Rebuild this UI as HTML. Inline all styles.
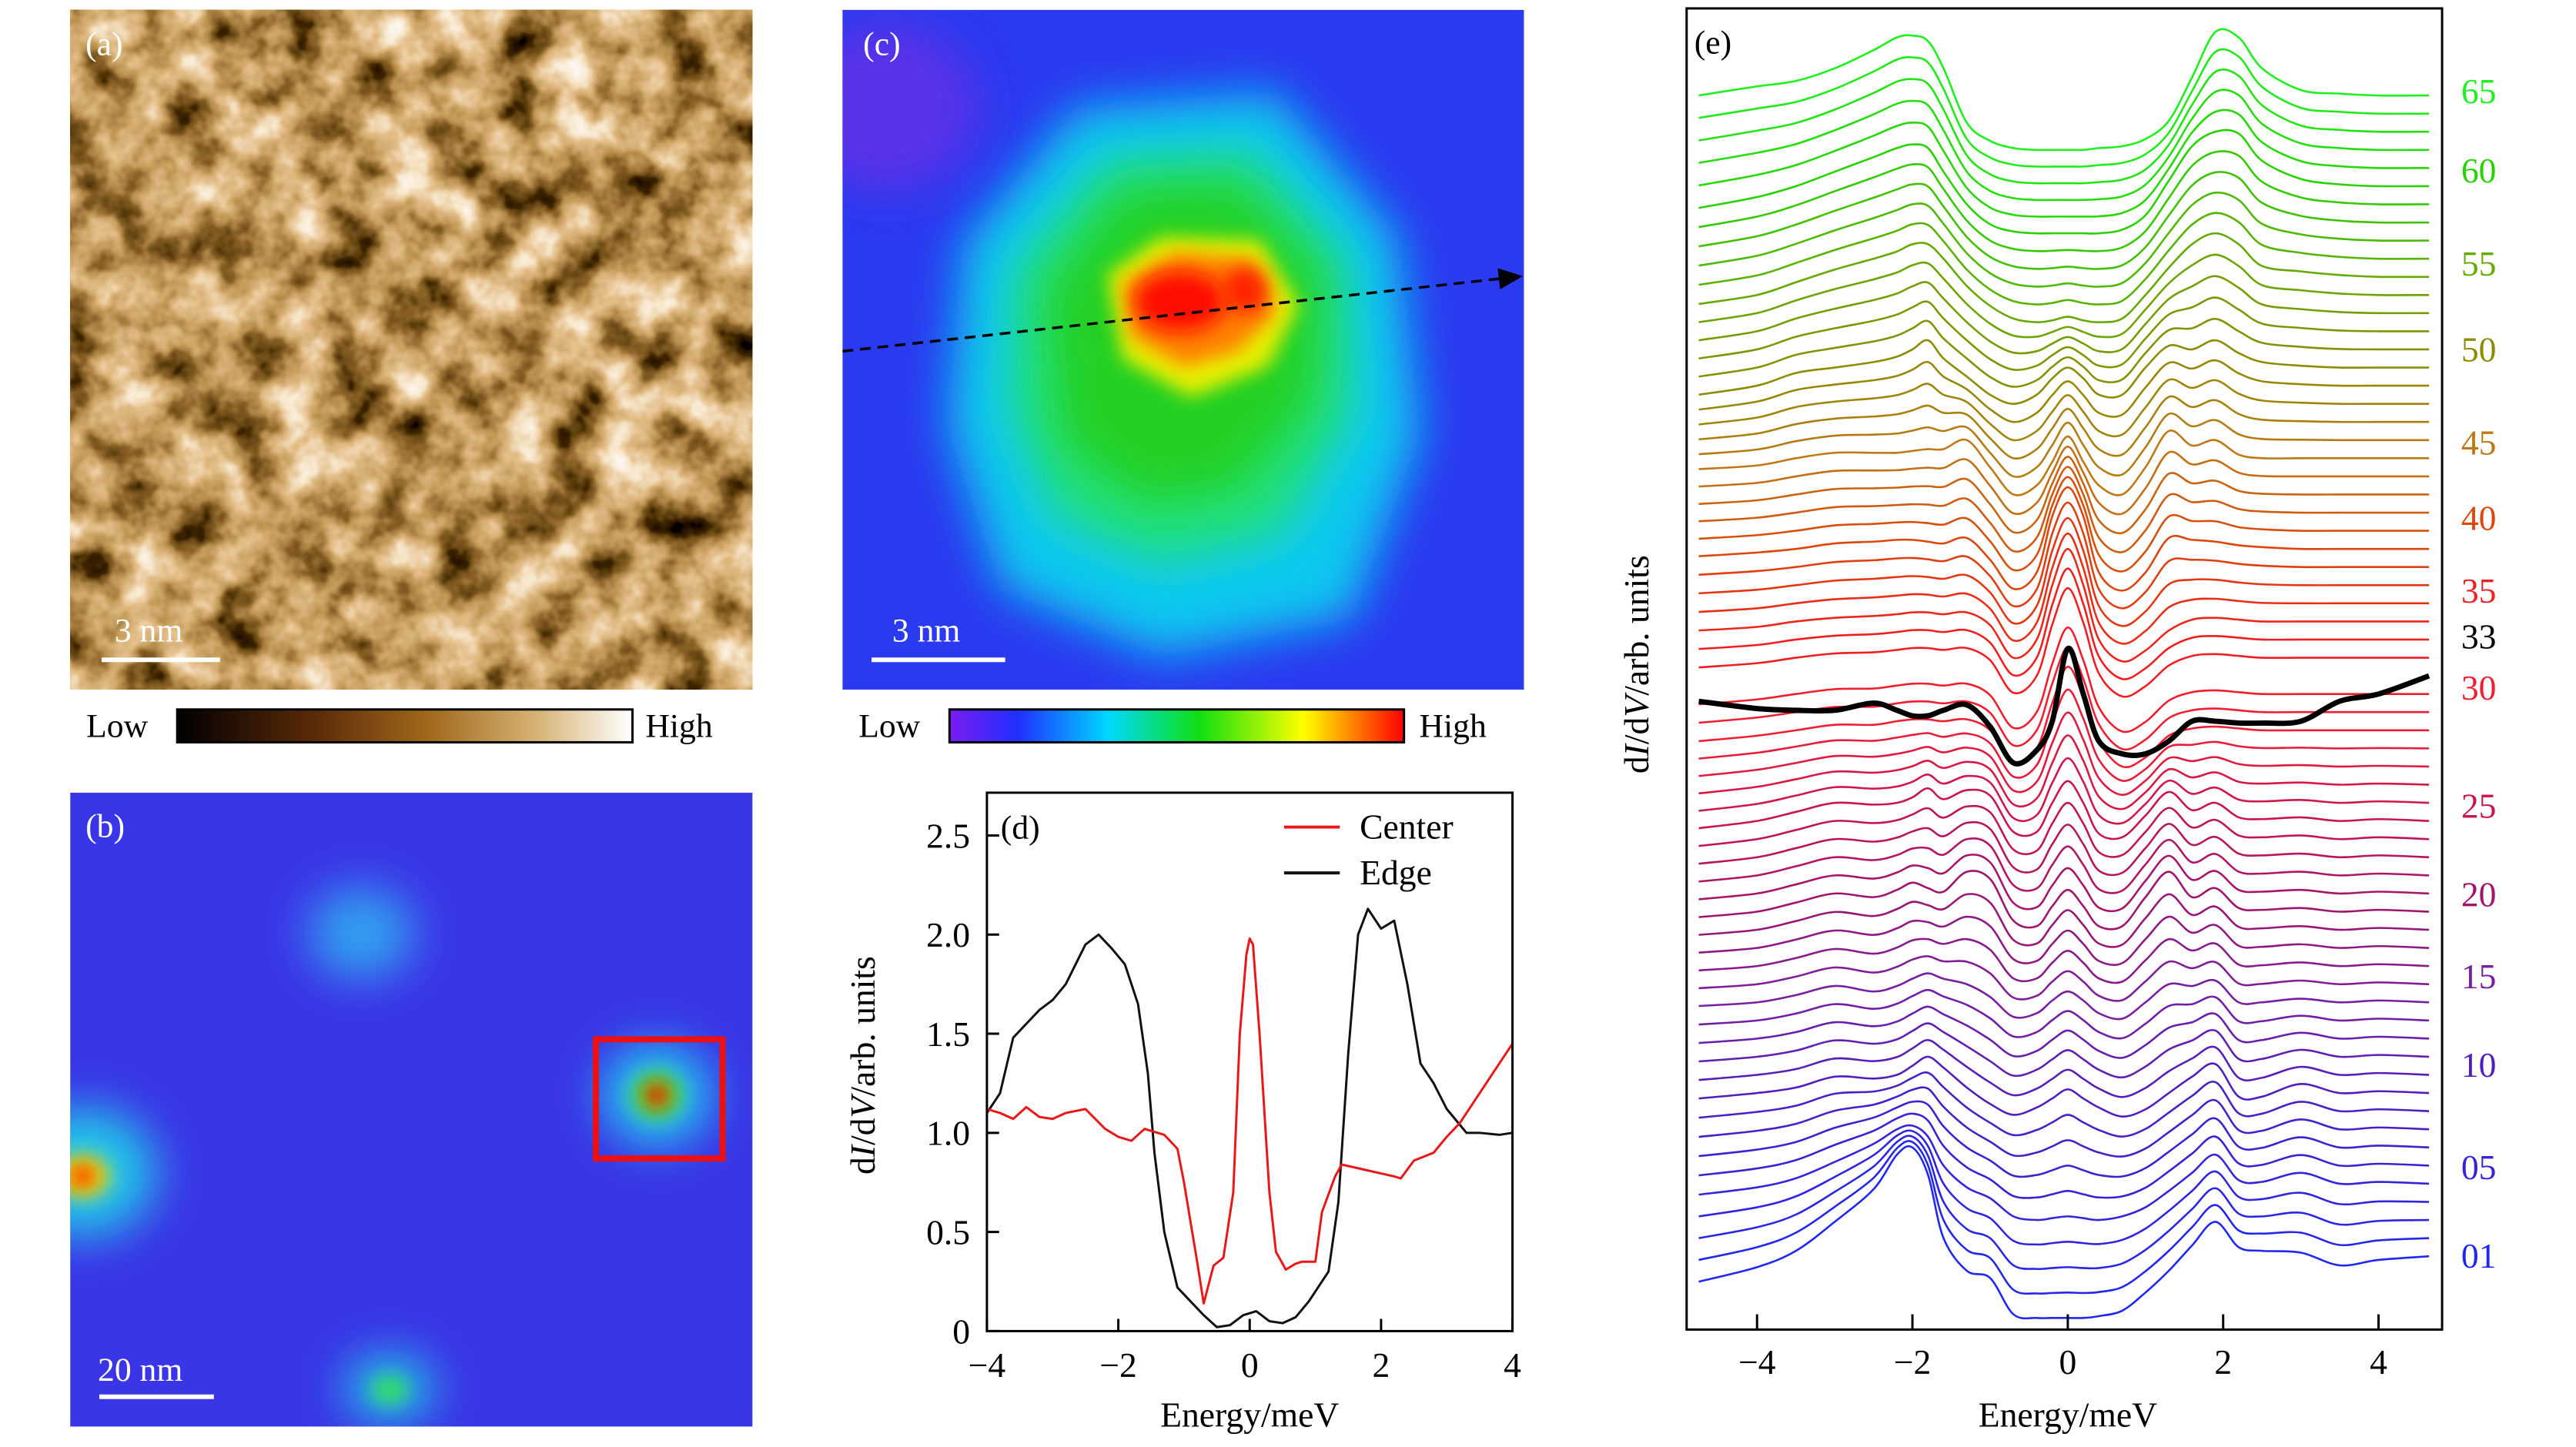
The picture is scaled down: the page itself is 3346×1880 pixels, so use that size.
<!DOCTYPE html>
<html><head><meta charset="utf-8"><style>
html,body{margin:0;padding:0;background:#fff}
svg{display:block}
text{font-family:"Liberation Serif",serif}
</style></head><body>
<svg id="fig" width="3346" height="1880" viewBox="0 0 3346 1880" xmlns="http://www.w3.org/2000/svg">
<defs>
 <filter id="tex" x="0" y="0" width="100%" height="100%">
  <feTurbulence type="fractalNoise" baseFrequency="0.014" numOctaves="4" seed="7"/>
  <feColorMatrix type="matrix" values="1 0 0 0 0 1 0 0 0 0 1 0 0 0 0 0 0 0 0 1"/>
  <feComponentTransfer>
   <feFuncR type="table" tableValues="0 0 0.05 0.25 0.55 0.78 0.93 1 1"/>
   <feFuncG type="table" tableValues="0 0 0.02 0.12 0.33 0.52 0.8 0.95 1"/>
   <feFuncB type="table" tableValues="0 0 0 0.02 0.1 0.25 0.6 0.9 1"/>
  </feComponentTransfer>
 </filter>
 <filter id="blur30" x="-100%" y="-100%" width="300%" height="300%"><feGaussianBlur stdDeviation="30"/></filter>
 <filter id="blur12" x="-100%" y="-100%" width="300%" height="300%"><feGaussianBlur stdDeviation="12"/></filter>
 <linearGradient id="gBrown" x1="0" x2="1" y1="0" y2="0">
  <stop offset="0" stop-color="#000"/><stop offset="0.3" stop-color="#5a2a08"/><stop offset="0.55" stop-color="#a0681c"/><stop offset="0.78" stop-color="#d4b070"/><stop offset="1" stop-color="#fff"/>
 </linearGradient>
 <linearGradient id="gRain" x1="0" x2="1" y1="0" y2="0">
  <stop offset="0" stop-color="#7a1cf0"/><stop offset="0.15" stop-color="#2030ff"/><stop offset="0.35" stop-color="#00d8ff"/><stop offset="0.55" stop-color="#10e010"/><stop offset="0.78" stop-color="#ffff00"/><stop offset="1" stop-color="#ff0000"/>
 </linearGradient>
 <marker id="arr" markerWidth="10" markerHeight="10" refX="8" refY="5" orient="auto" markerUnits="strokeWidth"><path d="M0,1 L9,5 L0,9 Z" fill="#000"/></marker>
</defs>
<g transform="scale(0.9922)">
<!-- panel a -->
<g>
 <rect x="92" y="13" width="893" height="890" filter="url(#tex)"/>
 <text x="112" y="72" font-size="44" fill="#fff">(a)</text>
 <text x="150" y="840" font-size="44" fill="#fff">3 nm</text>
 <rect x="133" y="861" width="155" height="6" fill="#fff"/>
</g>
<g>
 <text x="113" y="965" font-size="44">Low</text>
 <rect x="232" y="929" width="596" height="43" fill="url(#gBrown)" stroke="#000" stroke-width="3"/>
 <text x="845" y="965" font-size="44">High</text>
</g>

<!-- panel b -->
<g>
 <clipPath id="cb"><rect x="92" y="1038" width="893" height="830"/></clipPath>
 <rect x="92" y="1038" width="893" height="830" fill="#3a35e6"/>
 <g clip-path="url(#cb)">
  <ellipse cx="473" cy="1222" rx="70" ry="60" fill="#30a0f0" filter="url(#blur30)"/>
  <ellipse cx="110" cy="1535" rx="95" ry="85" fill="#20c8e8" filter="url(#blur30)"/>
  <ellipse cx="108" cy="1540" rx="35" ry="28" fill="#e8e000" filter="url(#blur12)"/>
  <ellipse cx="108" cy="1540" rx="16" ry="14" fill="#ff2000" filter="url(#blur12)"/>
  <ellipse cx="860" cy="1434" rx="70" ry="65" fill="#20d0f0" filter="url(#blur30)"/>
  <ellipse cx="860" cy="1434" rx="32" ry="30" fill="#50e020" filter="url(#blur12)"/>
  <ellipse cx="860" cy="1434" rx="16" ry="16" fill="#ff1800" filter="url(#blur12)"/>
  <ellipse cx="510" cy="1818" rx="60" ry="45" fill="#20c0e8" filter="url(#blur30)"/>
  <ellipse cx="510" cy="1820" rx="24" ry="18" fill="#30e060" filter="url(#blur12)"/>
 </g>
 <rect x="780" y="1361" width="166" height="156" fill="none" stroke="#ee1010" stroke-width="8"/>
 <text x="112" y="1096" font-size="44" fill="#fff">(b)</text>
 <text x="128" y="1808" font-size="44" fill="#fff">20 nm</text>
 <rect x="130" y="1826" width="150" height="6" fill="#fff"/>
</g>

<!-- panel c -->
<g>
 <clipPath id="cc"><rect x="1103" y="13" width="892" height="890"/></clipPath>
 <rect x="1103" y="13" width="892" height="890" fill="#2a3af0"/>
 <g clip-path="url(#cc)">
  <ellipse cx="1160" cy="140" rx="120" ry="110" fill="#5a30e8" filter="url(#blur30)"/>
  <path d="M1260,320 L1410,140 L1670,120 L1830,310 L1860,570 L1770,810 L1520,860 L1310,770 L1240,560 Z" fill="#10c8f0" filter="url(#blur30)"/>
  <path d="M1330,350 L1450,210 L1640,200 L1760,340 L1770,540 L1680,700 L1520,740 L1380,680 L1320,530 Z" fill="#20e080" filter="url(#blur30)"/>
  <path d="M1370,380 L1470,250 L1620,240 L1730,360 L1720,520 L1620,640 L1500,660 L1390,580 Z" fill="#20d020" filter="url(#blur30)"/>
  <path d="M1450,360 L1520,310 L1650,315 L1700,400 L1660,480 L1560,520 L1470,470 Z" fill="#e8f000" filter="url(#blur12)"/>
  <path d="M1470,370 L1540,330 L1640,340 L1670,410 L1620,460 L1550,480 L1480,440 Z" fill="#ff8000" filter="url(#blur12)"/>
  <ellipse cx="1545" cy="395" rx="60" ry="40" fill="#ff1000" filter="url(#blur12)"/>
  <ellipse cx="1630" cy="380" rx="30" ry="30" fill="#ff2000" filter="url(#blur12)"/>
 </g>
 <line x1="1103" y1="460" x2="1990" y2="362" stroke="#000" stroke-width="3.5" stroke-dasharray="14,9" marker-end="url(#arr)"/>
 <text x="1130" y="72" font-size="44" fill="#fff">(c)</text>
 <text x="1168" y="840" font-size="44" fill="#fff">3 nm</text>
 <rect x="1141" y="861" width="175" height="6" fill="#fff"/>
</g>
<g>
 <text x="1124" y="965" font-size="44">Low</text>
 <rect x="1243" y="929" width="595" height="43" fill="url(#gRain)" stroke="#000" stroke-width="3"/>
 <text x="1858" y="965" font-size="44">High</text>
</g>

<g id="pd"></g>
<g id="pe"></g>
</g>
</svg>
<script>
const NS='http://www.w3.org/2000/svg';
// ---------- panel d data ----------
const dCenterE=[-4,-3.8,-3.6,-3.4,-3.2,-3,-2.8,-2.5,-2.2,-2,-1.8,-1.6,-1.3,-1.1,-1,-0.8,-0.7,-0.55,-0.4,-0.25,-0.15,-0.05,0,0.05,0.15,0.3,0.4,0.55,0.7,0.8,1,1.1,1.3,1.4,1.8,2.2,2.3,2.5,2.8,3,3.2,3.5,3.8,4];
const dCenterV=[1.12,1.10,1.07,1.13,1.08,1.07,1.10,1.12,1.02,0.98,0.96,1.02,0.99,0.92,0.75,0.35,0.14,0.33,0.37,0.7,1.5,1.9,1.98,1.95,1.5,0.7,0.4,0.31,0.34,0.35,0.35,0.6,0.78,0.84,0.81,0.78,0.77,0.86,0.90,0.98,1.05,1.20,1.35,1.45];
const dEdgeE=[-4,-3.8,-3.6,-3.4,-3.2,-3,-2.8,-2.5,-2.3,-2.1,-1.9,-1.7,-1.55,-1.45,-1.3,-1.1,-0.9,-0.7,-0.5,-0.3,-0.1,0.1,0.3,0.5,0.7,0.9,1.2,1.35,1.5,1.65,1.8,2.0,2.2,2.4,2.6,2.8,3,3.3,3.5,3.8,4];
const dEdgeV=[1.10,1.20,1.48,1.55,1.62,1.67,1.75,1.95,2.0,1.93,1.85,1.65,1.3,0.9,0.5,0.22,0.15,0.08,0.02,0.03,0.08,0.10,0.05,0.04,0.07,0.15,0.3,0.65,1.4,2.0,2.13,2.03,2.07,1.75,1.35,1.25,1.12,1.0,1.0,0.99,1.0];
const dXTicks=[-4,-2,0,2,4];
const dYTicks=[0,0.5,1.0,1.5,2.0,2.5];
const dYTickLabels=['0','0.5','1.0','1.5','2.0','2.5'];
const dXTickLabels=['\u22124','\u22122','0','2','4'];

// ---------- panel e data ----------
const eGrid=[-4.75,-4,-3.5,-3,-2.5,-2.2,-2,-1.8,-1.6,-1.3,-1,-0.7,-0.4,-0.2,0,0.2,0.4,0.7,1,1.3,1.6,1.9,2.2,2.5,3,3.5,4,4.65];
const eKeyIdx=[1,5,10,15,20,25,30,36,40,45,50,55,60,65];
const eK1=[-1.4,-0.6,0.3,1.9,3.7,5.6,6.0,4.5,1.0,-0.8,-1.2,-3.2,-3.4,-3.4,-3.4,-3.4,-3.3,-3.0,-2.0,-0.8,0.6,1.9,0.5,0.3,0.2,-0.5,-0.2,0];
const eK5=[-0.6,-0.2,0.3,1.2,2.2,3.0,3.2,2.6,1.0,-0.2,-0.8,-1.8,-2.0,-1.9,-1.8,-1.9,-2.0,-1.8,-1.3,-0.4,0.6,1.6,0.2,0.1,0.6,0.0,0.1,0];
const eK10=[-0.3,0,0.3,0.9,0.8,1.0,1.5,2.0,1.4,0.3,-0.6,-1.2,-0.8,-0.3,0.2,-0.3,-0.8,-1.3,-0.9,0,0.9,1.6,-0.2,-0.2,0.5,0.0,0.1,0];
const eK15=[-0.2,0,0.4,0.9,0.6,0.9,1.3,1.6,1.3,1.0,0.3,-0.8,-0.6,0.1,0.6,0.1,-0.6,-0.9,0.0,1.0,0.9,1.2,0.0,0,0.2,0,0.1,0];
const eK20=[-0.3,0,0.5,1.0,0.8,1.2,1.6,1.3,1.1,2.2,1.8,-0.5,-0.8,0.3,1.2,0.3,-0.8,-0.8,0.8,2.2,0.8,1.3,0.2,0.1,0.2,0,0.1,0];
const eK25=[-0.4,0,0.5,1.0,0.9,1.0,1.3,1.8,1.2,1.7,1.4,-0.6,-0.6,1.0,2.2,1.0,-0.7,-0.9,0.3,1.6,0.6,1.0,0.2,0.1,0.2,0,0.1,0];
const eK30=[-0.6,-0.3,0,0.3,0.3,0.5,0.6,0.6,0.5,0.6,0.0,-1.8,-1.0,1.5,3.5,1.8,-0.6,-2.0,-1.5,-0.3,0.1,0.2,0.1,0,0,0,0,0];
const eK33=[-1.4,-1.8,-1.9,-1.9,-1.5,-1.9,-2.2,-2.2,-1.9,-1.6,-2.8,-4.8,-4.1,-2.5,1.5,-1.0,-3.6,-4.3,-4.3,-3.6,-2.5,-2.5,-2.6,-2.6,-2.5,-1.4,-1.0,0];
const eK36=[-0.5,-0.3,0,0.2,0.3,0.4,0.5,0.5,0.4,0.5,-0.2,-2.0,-1.0,2.0,4.0,2.0,-1.0,-2.2,-1.6,-0.5,0.1,0.2,0.1,0,0,0,0,0];
const eK40=[-0.4,-0.2,0,0.3,0.4,0.5,0.5,0.4,0.3,0.6,-0.6,-2.2,-1.3,1.8,3.4,1.8,-1.3,-2.3,-1.3,0.6,0.5,0.4,0.2,0.1,0,0,0,0];
const eK45=[-0.6,-0.4,0,0.3,0.3,0.3,0.4,0.5,0.5,1.0,-0.5,-2.0,-1.5,-0.2,1.2,-0.2,-1.5,-2.0,-0.5,1.5,0.7,1.0,0.2,0,0,0,0,0];
const eK50=[-1.5,-1.0,-0.3,0.0,0.3,0.6,1.0,1.5,0.5,-0.5,-1.5,-2.0,-1.5,-0.6,0,-0.6,-1.5,-1.5,0.0,1.2,1.0,1.5,0.8,0.3,0.1,0,0,0];
const eK55=[-1.5,-1.0,-0.3,0.4,1.0,1.4,1.8,1.8,1.0,-0.5,-1.6,-2.3,-2.5,-2.4,-2.2,-2.4,-2.5,-2.3,-1.0,0.5,1.8,2.4,1.8,0.6,0.3,0.1,0,0];
const eK60=[-1.2,-0.6,0,0.8,1.6,2.1,2.3,2.1,0.8,-1.0,-2.1,-2.5,-2.6,-2.6,-2.6,-2.6,-2.6,-2.4,-1.6,0.3,2.2,3.0,2.9,1.4,0.4,0.1,0,0];
const eK65=[0,0.5,0.8,1.5,2.5,3.2,3.3,3.0,1.5,-1.5,-2.5,-2.9,-3.0,-3.0,-3.0,-3.0,-2.9,-2.8,-2.4,-1.4,1.0,3.5,3.2,1.5,0.3,0.1,0,0];
const eKeys=[eK1,eK5,eK10,eK15,eK20,eK25,eK30,eK36,eK40,eK45,eK50,eK55,eK60,eK65];
const eLabels=['01','05','10','15','20','25','30','33','35','40','45','50','55','60','65'];
const eLabelIdx=[1,5,10,15,20,25,30,33,35,40,45,50,55,60,65];
const eLabelY=[1645,1529,1395,1279,1172,1056,901,834,774,679,580,458,346,224,120];
const eXTicks=[-4,-2,0,2,4];
const eXTickLabels=['\u22124','\u22122','0','2','4'];
const eCount=65;
const eColorIdx=[1,10,15,20,25,30,35,40,45,50,55,60,65];
const eColorR=[30,80,120,160,200,240,240,220,190,140,100,40,30];
const eColorG=[40,30,30,20,20,30,30,70,120,140,170,210,240];
const eColorB=[240,190,160,110,80,50,30,10,20,0,0,0,30];

function mk(tag,attrs,parent){const e=document.createElementNS(NS,tag);for(const k in attrs)e.setAttribute(k,attrs[k]);parent.appendChild(e);return e;}

// ---- panel d ----
(function(){
 const g=document.getElementById('pd');
 const L=1292,R=1980,T=1038,B=1743;
 const xs=v=>L+(v+4)/8*(R-L);
 const ysc=v=>B-(v/2.5)*(B-1094);
 const pts=(E,V)=>E.map((e,i)=>xs(e).toFixed(1)+','+ysc(V[i]).toFixed(1)).join(' ');
 let l=mk('polyline',{points:pts(dEdgeE,dEdgeV),fill:'none',stroke:'#111','stroke-width':3,'stroke-linejoin':'round'},g);
 
 
 l=mk('polyline',{points:pts(dCenterE,dCenterV),fill:'none',stroke:'#e81818','stroke-width':3,'stroke-linejoin':'round'},g);
 
 
 const fr=mk('rect',{x:L,y:T,width:R-L,height:B-T,fill:'none',stroke:'#000','stroke-width':3},g);
 
 
 dXTicks.forEach((t,i)=>{
  const tk=mk('line',{x1:xs(t),x2:xs(t),y1:B,y2:B-16,stroke:'#000','stroke-width':3},g);
  
  
  const tx=mk('text',{x:xs(t),y:B+60,'font-size':46,'text-anchor':'middle'},g);tx.textContent=dXTickLabels[i];
  
  
 });
 dYTicks.forEach((t,i)=>{
  const tk=mk('line',{x1:L,x2:L+16,y1:ysc(t),y2:ysc(t),stroke:'#000','stroke-width':3},g);
  
  
  const tx=mk('text',{x:L-22,y:ysc(t)+16,'font-size':46,'text-anchor':'end'},g);tx.textContent=dYTickLabels[i];
  
  
 });
 let t=mk('text',{x:1636,y:1868,'font-size':46,'text-anchor':'middle'},g);t.textContent='Energy/meV';
 
 
 t=mk('text',{x:0,y:0,'font-size':46,'text-anchor':'middle',transform:'translate(1145,1395) rotate(-90)'},g);
 t.innerHTML='d<tspan font-style="italic">I</tspan>/d<tspan font-style="italic">V</tspan>/arb. units';
 
 
 t=mk('text',{x:1310,y:1098,'font-size':44},g);t.textContent='(d)';
 
 
 const lg=mk('g',{},g);
 
 
 mk('line',{x1:1681,x2:1754,y1:1083,y2:1083,stroke:'#e81818','stroke-width':4},lg);
 t=mk('text',{x:1780,y:1098,'font-size':46},lg);t.textContent='Center';
 
 
 mk('line',{x1:1681,x2:1754,y1:1143,y2:1143,stroke:'#111','stroke-width':4},lg);
 t=mk('text',{x:1780,y:1158,'font-size':46},lg);t.textContent='Edge';
 
 
})();

// ---- panel e ----
(function(){
 const g=document.getElementById('pe');
 const L=2208,R=3197,T=11,B=1741;
 const x0=2707,pxPerMeV=101.7;
 const xs=e=>x0+e*pxPerMeV;
 const base1=1645,base65=125,unit=23.75;
 const yBase=i=>base1-(i-1)*(base1-base65)/(eCount-1);
 function color(i){
  let k=0;while(k<eColorIdx.length-2&&i>eColorIdx[k+1])k++;
  const f=(i-eColorIdx[k])/(eColorIdx[k+1]-eColorIdx[k]);
  const c=a=>Math.round(a[k]+(a[k+1]-a[k])*f);
  return 'rgb('+c(eColorR)+','+c(eColorG)+','+c(eColorB)+')';
 }
 function vals(i){
  if(i===33)return eK33;
  let k=0;while(k<eKeyIdx.length-2&&i>eKeyIdx[k+1])k++;
  const f=(i-eKeyIdx[k])/(eKeyIdx[k+1]-eKeyIdx[k]);
  return eKeys[k].map((v,j)=>v+(eKeys[k+1][j]-v)*f);
 }
 function smooth(P){
  let d='M'+P[0][0].toFixed(1)+','+P[0][1].toFixed(1);
  for(let j=0;j<P.length-1;j++){
   const p0=P[Math.max(0,j-1)],p1=P[j],p2=P[j+1],p3=P[Math.min(P.length-1,j+2)];
   const c1=[p1[0]+(p2[0]-p0[0])/6,p1[1]+(p2[1]-p0[1])/6];
   const c2=[p2[0]-(p3[0]-p1[0])/6,p2[1]-(p3[1]-p1[1])/6];
   d+=' C'+c1[0].toFixed(1)+','+c1[1].toFixed(1)+' '+c2[0].toFixed(1)+','+c2[1].toFixed(1)+' '+p2[0].toFixed(1)+','+p2[1].toFixed(1);
  }
  return d;
 }
 let black=null;
 for(let i=1;i<=eCount;i++){
  const v=vals(i);
  const P=eGrid.map((e,j)=>[xs(e),yBase(i)-v[j]*unit]);
  const p=mk('path',{d:smooth(P),fill:'none',stroke:i===33?'#000':color(i),'stroke-width':i===33?7:2.6,'stroke-linejoin':'round'},g);
  
  
  if(i===33)black=p;
 }
 g.appendChild(black);
 const fr=mk('rect',{x:L,y:T,width:R-L,height:B-T,fill:'none',stroke:'#000','stroke-width':3},g);
 
 
 eXTicks.forEach((t,i)=>{
  const tk=mk('line',{x1:xs(t),x2:xs(t),y1:B,y2:B-20,stroke:'#000','stroke-width':3},g);
  
  
  const tx=mk('text',{x:xs(t),y:B+58,'font-size':46,'text-anchor':'middle'},g);tx.textContent=eXTickLabels[i];
  
  
 });
 eLabels.forEach((s,k)=>{
  const idx=eLabelIdx[k];
  const tx=mk('text',{x:3222,y:eLabelY[k]+15,'font-size':46,fill:idx===33?'#000':color(idx)},g);tx.textContent=s;
  
  
 });
 let t=mk('text',{x:2707,y:1868,'font-size':46,'text-anchor':'middle'},g);t.textContent='Energy/meV';
 
 
 t=mk('text',{x:0,y:0,'font-size':46,'text-anchor':'middle',transform:'translate(2158,870) rotate(-90)'},g);
 t.innerHTML='d<tspan font-style="italic">I</tspan>/d<tspan font-style="italic">V</tspan>/arb. units';
 
 
 t=mk('text',{x:2218,y:70,'font-size':44},g);t.textContent='(e)';
 
 
})();
</script>
</body></html>
